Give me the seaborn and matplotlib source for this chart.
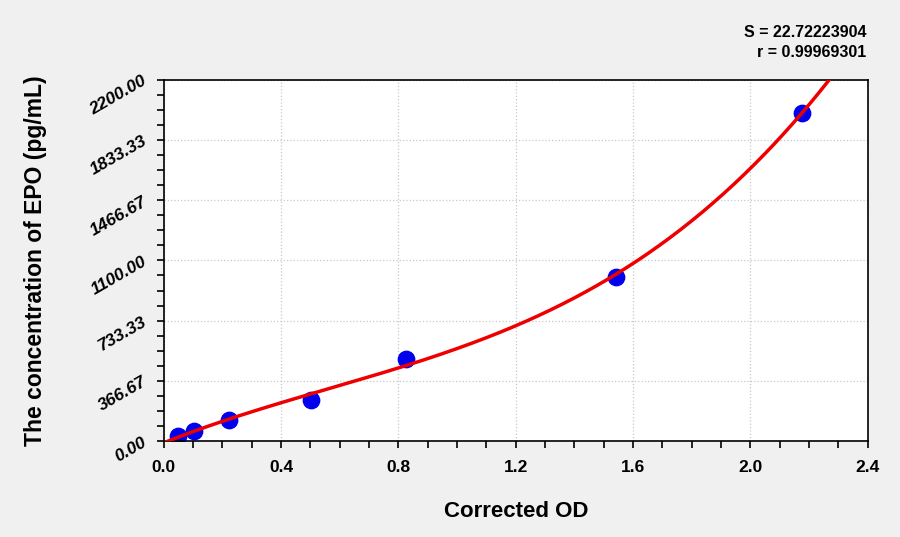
import numpy as np
import pandas as pd
import matplotlib
matplotlib.use("Agg")
import matplotlib.pyplot as plt
import seaborn as sns
from matplotlib.ticker import MultipleLocator

# данные стандартной кривой
od = [0.048, 0.102, 0.222, 0.501, 0.825, 1.541, 2.175]
conc = [31.25, 62.5, 125, 250, 500, 1000, 2000]
x_ticks = [0.0, 0.4, 0.8, 1.2, 1.6, 2.0, 2.4]
y_ticks = [0.00, 366.67, 733.33, 1100.00, 1466.67, 1833.33, 2200.00]
s_text = "S = 22.72223904"
r_text = "r = 0.99969301"

df = pd.DataFrame({"od": od, "conc": conc})

# аппроксимация кубическим полиномом
coef = np.polyfit(df["od"], df["conc"], 3)
xs = np.linspace(0, 2.4, 400)
fit = pd.DataFrame({"od": xs, "conc": np.polyval(coef, xs)})

sns.set_style("white")
plt.rcParams["font.family"] = ["Liberation Sans", "DejaVu Sans"]
plt.rcParams["text.color"] = "black"
plt.rcParams["axes.labelcolor"] = "black"
plt.rcParams["xtick.color"] = "black"
plt.rcParams["ytick.color"] = "black"

fig = plt.figure(figsize=(9, 5.37), dpi=100, facecolor="#f0f0f0")
ax = fig.add_axes([0.182, 0.179, 0.782, 0.672])
ax.set_facecolor("white")

sns.lineplot(data=fit, x="od", y="conc", color="#ee0000", linewidth=2.5, ax=ax, zorder=3)
sns.scatterplot(data=df, x="od", y="conc", color="#0000ee", s=140, edgecolor="#0000ee", ax=ax, zorder=2)

ax.set_xlim(0, 2.4)
ax.set_ylim(0, 2200)
ax.set_xticks(x_ticks)
ax.set_xticklabels([f"{v:.1f}" for v in x_ticks], fontsize=12.5, fontweight="bold")
ax.set_yticks(y_ticks)
ax.set_yticklabels([f"{v:.2f}" for v in y_ticks], fontsize=12.5, fontweight="bold",
                   fontstyle="italic", rotation=30, ha="right", va="center",
                   rotation_mode="anchor")
ax.xaxis.set_minor_locator(MultipleLocator(0.1))
ax.yaxis.set_minor_locator(MultipleLocator(2200 / 24))
ax.tick_params(which="both", direction="out", length=5, width=1.2, color="black",
               labelcolor="black", bottom=True, left=True)
ax.tick_params(axis="x", pad=9)
ax.tick_params(axis="y", pad=8)
ax.grid(True, which="major", color="#c8c8c8", linestyle=":", linewidth=0.9)
for sp in ax.spines.values():
    sp.set_color("black")
    sp.set_linewidth(1.2)

ax.set_xlabel("Corrected OD", fontsize=16, fontweight="bold", color="black")
ax.set_ylabel("The concentration of EPO (pg/mL)", fontsize=16.5, fontweight="bold", color="black")
ax.xaxis.set_label_coords(0.5, -0.195)
ax.yaxis.set_label_coords(-0.183, 0.5)
ax.xaxis.label.set_va("center")
ax.yaxis.label.set_va("center")

fig.text(0.963, 0.940, s_text, ha="right", va="center", fontsize=11.5, fontweight="bold", color="black")
fig.text(0.963, 0.903, r_text, ha="right", va="center", fontsize=11.5, fontweight="bold", color="black")

fig.savefig("out.png", dpi=100, facecolor=fig.get_facecolor())
